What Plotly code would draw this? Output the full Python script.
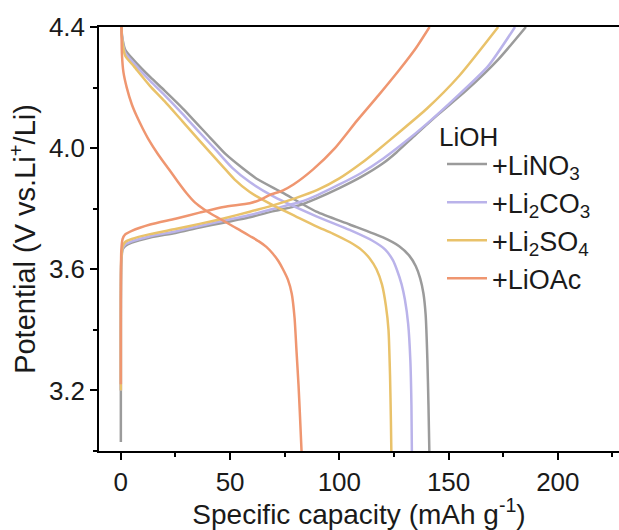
import plotly.graph_objects as go

names = ["+LiNO<sub>3</sub>", "+Li<sub>2</sub>CO<sub>3</sub>", "+Li<sub>2</sub>SO<sub>4</sub>", "+LiOAc"]
colors = ["#9b9b9b", "#bab3ea", "#e9c26a", "#ef9670"]
legend_title = "LiOH"

# Charge curves (capacity, potential)
gray_chg_x = [0, 0, 0.2, 0.8, 2, 5, 13.4, 25, 36, 47, 59, 70, 82, 90, 100, 110, 120, 126, 135, 145, 158, 173, 185.4]
gray_chg_y = [3.03, 3.40, 3.62, 3.665, 3.677, 3.688, 3.705, 3.72, 3.738, 3.754, 3.772, 3.792, 3.812, 3.835, 3.868, 3.905, 3.95, 3.985, 4.045, 4.11, 4.19, 4.295, 4.4]
purple_chg_x = [0, 0, 0.2, 0.8, 2, 5, 13.4, 25, 36, 47, 59, 70, 82, 90, 100, 110, 120, 130, 140, 153, 168, 180.4]
purple_chg_y = [3.2, 3.45, 3.63, 3.67, 3.682, 3.692, 3.709, 3.725, 3.743, 3.76, 3.779, 3.80, 3.822, 3.845, 3.88, 3.918, 3.965, 4.02, 4.08, 4.165, 4.27, 4.4]
yellow_chg_x = [0, 0, 0.2, 0.8, 2, 5, 13.4, 25, 36, 47, 59, 70, 80, 90, 100, 110, 117, 127, 140, 155, 172.7]
yellow_chg_y = [3.2, 3.45, 3.635, 3.675, 3.69, 3.70, 3.716, 3.733, 3.75, 3.768, 3.79, 3.812, 3.835, 3.862, 3.90, 3.95, 3.99, 4.05, 4.13, 4.24, 4.4]
orange_chg_x = [0, 0, 0.2, 0.8, 2, 5, 13.4, 25, 36, 47, 59, 64, 68, 74, 79, 88, 98, 108, 118, 127.4, 135, 141.3]
orange_chg_y = [3.22, 3.50, 3.66, 3.70, 3.715, 3.727, 3.748, 3.767, 3.787, 3.806, 3.818, 3.83, 3.845, 3.86, 3.88, 3.93, 4.0, 4.09, 4.175, 4.258, 4.33, 4.4]

# Discharge curves (capacity, potential)
gray_dis_x = [0.3, 0.5, 2, 6, 13.4, 20, 28.5, 40.8, 48, 55.5, 62, 74, 89.5, 104.7, 120, 127.4, 132, 135, 137, 138.5, 139.5, 140.3, 140.8, 141.2]
gray_dis_y = [4.4, 4.375, 4.325, 4.29, 4.235, 4.19, 4.13, 4.035, 3.98, 3.935, 3.9, 3.853, 3.79, 3.748, 3.705, 3.676, 3.645, 3.61, 3.57, 3.52, 3.45, 3.3, 3.15, 3.0]
purple_dis_x = [0.3, 0.5, 2, 6, 13.4, 20, 28, 36, 44, 51, 59, 70, 89.5, 104.7, 115, 121, 124.5, 126.5, 128.5, 130, 131.5, 132.5, 133, 133.2]
purple_dis_y = [4.4, 4.37, 4.315, 4.28, 4.222, 4.175, 4.115, 4.052, 3.99, 3.935, 3.888, 3.84, 3.775, 3.73, 3.695, 3.665, 3.63, 3.595, 3.55, 3.5, 3.42, 3.3, 3.15, 3.0]
yellow_dis_x = [0.3, 0.5, 2, 6, 13.4, 20, 28, 36, 46.6, 52, 59, 70, 80, 89.5, 97, 104.7, 110, 114, 117, 119.5, 121.3, 122.5, 123.2, 123.6, 123.8]
yellow_dis_y = [4.4, 4.365, 4.305, 4.27, 4.205, 4.155, 4.09, 4.025, 3.94, 3.897, 3.855, 3.81, 3.775, 3.742, 3.718, 3.69, 3.665, 3.635, 3.6, 3.55, 3.48, 3.4, 3.25, 3.1, 3.0]
orange_dis_x = [0.3, 0.5, 1.2, 2.7, 5, 7.3, 10, 12.6, 17, 22, 26, 30, 34, 38, 42, 47, 51.3, 55, 59, 63, 66.6, 69.5, 72, 74.2, 76.5, 78.2, 79.5, 80.4, 81.3, 81.9, 82.7]
orange_dis_y = [4.4, 4.31, 4.25, 4.2, 4.145, 4.105, 4.065, 4.03, 3.98, 3.93, 3.89, 3.852, 3.82, 3.798, 3.78, 3.76, 3.742, 3.727, 3.71, 3.693, 3.674, 3.652, 3.628, 3.6, 3.565, 3.52, 3.44, 3.33, 3.22, 3.13, 3.0]

series = [
    (gray_chg_x, gray_chg_y, gray_dis_x, gray_dis_y),
    (purple_chg_x, purple_chg_y, purple_dis_x, purple_dis_y),
    (yellow_chg_x, yellow_chg_y, yellow_dis_x, yellow_dis_y),
    (orange_chg_x, orange_chg_y, orange_dis_x, orange_dis_y),
]

x_ticks = [0, 50, 100, 150, 200]
y_ticks = [3.2, 3.6, 4.0, 4.4]

FONT = "Liberation Sans, Arial, sans-serif"

fig = go.Figure()
for i, (cx, cy, dx, dy) in enumerate(series):
    fig.add_trace(go.Scatter(
        x=list(cx) + [None] + list(dx),
        y=list(cy) + [None] + list(dy),
        mode="lines",
        name=names[i],
        legendgroup=str(i),
        line=dict(color=colors[i], width=2.5, shape="spline", smoothing=0.6),
        connectgaps=False,
    ))

fig.add_annotation(
    text=legend_title, xref="paper", yref="paper",
    x=(437 - 99) / 520, y=1 - (137 - 27) / 424,
    xanchor="left", yanchor="middle", showarrow=False,
    font=dict(size=26, family=FONT, color="#1a1a1a"),
)

fig.update_layout(
    width=619, height=530,
    margin=dict(l=99, r=0, t=27, b=79),
    plot_bgcolor="white", paper_bgcolor="white",
    font=dict(family=FONT, size=26, color="#1a1a1a"),
    showlegend=True,
    legend=dict(
        x=(442 - 99) / 520, y=1 - (140 - 27) / 424, xanchor="left", yanchor="top",
        font=dict(size=27),
        bgcolor="rgba(0,0,0,0)",
        itemwidth=40,
        tracegroupgap=0,
        traceorder="grouped",
    ),
)
fig.update_xaxes(
    range=[-10, 228], tickvals=x_ticks,
    showline=True, linecolor="black", linewidth=1.5, mirror=True,
    ticks="outside", ticklen=7, tickwidth=1.5, tickcolor="black",
    minor=dict(dtick=25, tick0=0, ticks="outside", ticklen=4, tickwidth=1.5, tickcolor="black"),
    showgrid=False, zeroline=False,
    tickfont=dict(size=26),
    title=dict(text="Specific capacity (mAh g<sup>-1</sup>)", font=dict(size=28), standoff=0),
)
fig.update_yaxes(
    range=[3.0, 4.4], tickvals=y_ticks, tickformat=".1f",
    showline=True, linecolor="black", linewidth=1.5, mirror=False,
    ticks="outside", ticklen=7, tickwidth=1.5, tickcolor="black",
    minor=dict(dtick=0.2, tick0=3.0, ticks="outside", ticklen=4, tickwidth=1.5, tickcolor="black"),
    showgrid=False, zeroline=False,
    tickfont=dict(size=26),
    title=dict(text="Potential (V vs.Li<sup>+</sup>/Li)", font=dict(size=29), standoff=5),
)

fig.write_html("out.html")
